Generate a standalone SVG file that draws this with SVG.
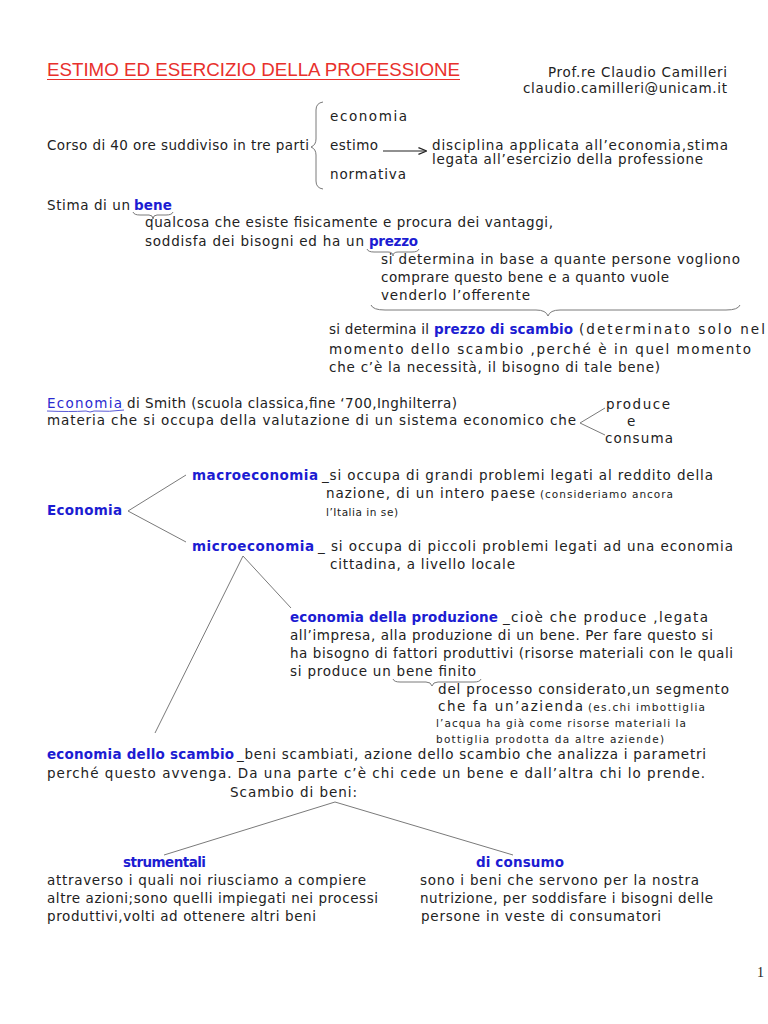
<svg xmlns="http://www.w3.org/2000/svg" width="768" height="1024" viewBox="0 0 768 1024">
<style>
text{font-family:"DejaVu Sans","Liberation Sans",Arial,sans-serif;font-size:13.5px;fill:#222}
.b{font-weight:bold;fill:#1c1cd2}
.s{font-size:10.5px}
.r{fill:#e8302c;font-size:19px;font-family:"Liberation Sans",Arial,sans-serif}
.c{stroke:#7a7a7a;stroke-width:1;fill:none}
.k{stroke:#222;stroke-width:1.2;fill:none}
</style>
<defs>
<marker id="ah" viewBox="0 0 10 10" refX="9" refY="5" markerWidth="7" markerHeight="7" orient="auto"><path d="M0,1 L10,5 L0,9" fill="none" stroke="#222" stroke-width="1.5"/></marker>
</defs>
<rect width="768" height="1024" fill="#fff"/>
<g id="title">
<text class="r" x="47" y="76" textLength="413" lengthAdjust="spacingAndGlyphs">ESTIMO ED ESERCIZIO DELLA PROFESSIONE</text>
<line x1="47" y1="79.5" x2="460" y2="79.5" stroke="#e8302c" stroke-width="1"/>
<text x="727" y="77" text-anchor="end" textLength="179">Prof.re Claudio Camilleri</text>
<text x="727" y="93" text-anchor="end" textLength="204">claudio.camilleri@unicam.it</text>
</g>
<g id="corso">
<text x="47" y="150" textLength="262">Corso di 40 ore suddiviso in tre parti</text>
<text x="330" y="121" textLength="77">economia</text>
<text x="330" y="150" textLength="48">estimo</text>
<text x="330" y="179" textLength="76">normativa</text>
<text x="432" y="150" textLength="296">disciplina applicata all’economia,stima</text>
<text x="432" y="164" textLength="271">legata all’esercizio della professione</text>
</g>
<g id="bene">
<text x="47" y="210" textLength="83">Stima di un</text>
<text class="b" x="134" y="210" textLength="38">bene</text>
<text x="145" y="227" textLength="408">qualcosa che esiste fisicamente e procura dei vantaggi,</text>
<text x="145" y="246" textLength="219">soddisfa dei bisogni ed ha un</text>
<text class="b" x="369" y="246" textLength="49">prezzo</text>
</g>
<g id="prezzo">
<text x="381" y="264" textLength="359">si determina in base a quante persone vogliono</text>
<text x="381" y="282" textLength="288">comprare questo bene e a quanto vuole</text>
<text x="381" y="300" textLength="149">venderlo l’offerente</text>
</g>
<g id="scambio-prezzo">
<text x="329" y="334" textLength="100">si determina il</text>
<text class="b" x="434" y="334" textLength="139">prezzo di scambio</text>
<text x="579" y="334" textLength="186">(determinato solo nel</text>
<text x="329" y="354" textLength="422">momento dello scambio ,perché è in quel momento</text>
<text x="329" y="372" textLength="331">che c’è la necessità, il bisogno di tale bene)</text>
</g>
<g id="smith">
<text x="47" y="408" textLength="75" style="fill:#2a2ad0">Economia</text>
<path d="M47,411 Q70,412 86,411 Q90,413 94,411 Q110,412 124,410" stroke="#5a5ad8" stroke-width="1" fill="none"/>
<text x="127" y="408" textLength="330">di Smith (scuola classica,fine ‘700,Inghilterra)</text>
<text x="47" y="425" textLength="529">materia che si occupa della valutazione di un sistema economico che</text>
<text x="606" y="409" textLength="64">produce</text>
<text x="627" y="426">e</text>
<text x="605" y="443" textLength="68">consuma</text>
</g>
<g id="economia">
<text class="b" x="47" y="515" textLength="75">Economia</text>
</g>
<g id="macro">
<text class="b" x="192" y="480" textLength="126">macroeconomia</text>
<text x="322" y="480" textLength="391">_si occupa di grandi problemi legati al reddito della</text>
<text x="326" y="498" textLength="209">nazione, di un intero paese</text>
<text class="s" x="540" y="498" textLength="133">(consideriamo ancora</text>
<text class="s" x="326" y="516" textLength="72">l’Italia in se)</text>
</g>
<g id="micro">
<text class="b" x="192" y="551" textLength="122">microeconomia</text>
<text x="318" y="551" textLength="415">_ si occupa di piccoli problemi legati ad una economia</text>
<text x="330" y="569" textLength="185">cittadina, a livello locale</text>
</g>
<g id="produzione">
<text class="b" x="290" y="622" textLength="208">economia della produzione</text>
<text x="503" y="622" textLength="205">_cioè che produce ,legata</text>
<text x="290" y="640" textLength="423">all’impresa, alla produzione di un bene. Per fare questo si</text>
<text x="290" y="658" textLength="443">ha bisogno di fattori produttivi (risorse materiali con le quali</text>
<text x="290" y="676" textLength="186">si produce un bene finito</text>
<text x="438" y="694" textLength="291">del processo considerato,un segmento</text>
<text x="438" y="711" textLength="145">che fa un’azienda</text>
<text class="s" x="588" y="711" textLength="117">(es.chi imbottiglia</text>
<text class="s" x="436" y="727" textLength="250">l’acqua ha già come risorse materiali la</text>
<text class="s" x="436" y="743" textLength="228">bottiglia prodotta da altre aziende)</text>
</g>
<g id="scambio">
<text class="b" x="47" y="759" textLength="187">economia dello scambio</text>
<text x="237" y="759" textLength="469">_beni scambiati, azione dello scambio che analizza i parametri</text>
<text x="47" y="778" textLength="658">perché questo avvenga. Da una parte c’è chi cede un bene e dall’altra chi lo prende.</text>
<text x="230" y="797" textLength="127">Scambio di beni:</text>
</g>
<g id="strumentali">
<text class="b" x="123" y="867" textLength="83">strumentali</text>
<text x="47" y="885" textLength="319">attraverso i quali noi riusciamo a compiere</text>
<text x="47" y="903" textLength="331">altre azioni;sono quelli impiegati nei processi</text>
<text x="47" y="921" textLength="269">produttivi,volti ad ottenere altri beni</text>
</g>
<g id="consumo">
<text class="b" x="476" y="867" textLength="88">di consumo</text>
<text x="420" y="885" textLength="279">sono i beni che servono per la nostra</text>
<text x="420" y="903" textLength="293">nutrizione, per soddisfare i bisogni delle</text>
<text x="421" y="921" textLength="240">persone in veste di consumatori</text>
</g>
<g id="page">
<text x="757" y="977" style="font-family:'Liberation Serif','Times New Roman',serif;font-size:14px">1</text>
</g>
<g id="connectors">
<path class="c" d="M323,102 Q316,103 316,110 L316,139 Q316,145 311,147 Q316,149 316,155 L316,181 Q316,188 323,189"/>
<line class="k" x1="383" y1="151" x2="426" y2="151" marker-end="url(#ah)"/>
<path class="c" d="M133,212 Q134,215 140,215 L149,215 Q153,215 153,219 Q153,215 157,215 L166,215 Q172,215 173,212"/>
<path class="c" d="M367,249 Q368,252 374,252 L388,252 Q393,252 393,256 Q393,252 398,252 L412,252 Q418,252 419,249"/>
<path class="c" d="M371,305 Q373,310 385,310 L536,310 Q546,310 548,316 Q550,310 560,310 L726,310 Q738,310 740,305"/>
<path class="c" d="M393,679 Q394,682 400,682 L426,682 Q431,682 432,686 Q433,682 438,682 L474,682 Q480,682 481,679"/>
<polyline class="c" points="605,408 580,423 605,435"/>
<polyline class="c" points="186,475 128,511 186,542"/>
<polyline class="c" points="155,733 243,556 291,608"/>
<polyline class="c" points="164,855 335,802 513,855"/>
</g>
</svg>
